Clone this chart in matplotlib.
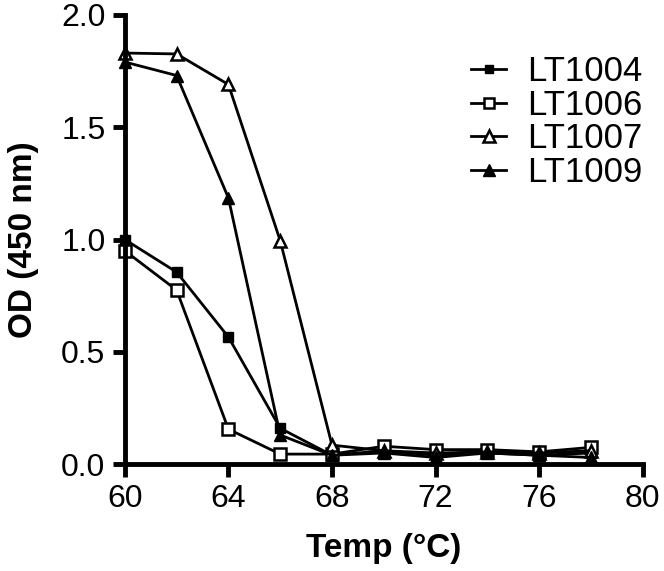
import matplotlib.pyplot as plt
from matplotlib.ticker import FormatStrFormatter

plt.rcParams['font.family'] = ['Liberation Sans', 'DejaVu Sans']

temp = [60, 62, 64, 66, 68, 70, 72, 74, 76, 78]
lt1004 = [1.00, 0.855, 0.566, 0.16, 0.04, 0.06, 0.04, 0.05, 0.04, 0.05]
lt1006 = [0.95, 0.775, 0.156, 0.045, 0.045, 0.08, 0.065, 0.065, 0.055, 0.075]
lt1007 = [1.83, 1.826, 1.69, 0.995, 0.085, 0.06, 0.05, 0.055, 0.05, 0.06]
lt1009 = [1.79, 1.73, 1.185, 0.13, 0.04, 0.05, 0.03, 0.05, 0.04, 0.03]

fig = plt.figure(figsize=(6.64, 5.71), dpi=100)
ax = fig.add_axes([0.188, 0.187, 0.780, 0.787])

lw = 2.0
ax.plot(temp, lt1004, color="black", lw=lw, marker="s", ms=7, mfc="black", mec="black", label="LT1004", clip_on=False)
ax.plot(temp, lt1006, color="black", lw=lw, marker="s", ms=8, mfc="white", mec="black", mew=1.8, label="LT1006", clip_on=False)
ax.plot(temp, lt1007, color="black", lw=lw, marker="^", ms=9, mfc="white", mec="black", mew=1.8, label="LT1007", clip_on=False)
ax.plot(temp, lt1009, color="black", lw=lw, marker="^", ms=9, mfc="black", mec="black", label="LT1009", clip_on=False)

ax.set_xlim(60, 80)
ax.set_ylim(0, 2.0)
ax.set_xticks([60, 64, 68, 72, 76, 80])
ax.set_yticks([0.0, 0.5, 1.0, 1.5, 2.0])
ax.yaxis.set_major_formatter(FormatStrFormatter("%.1f"))

for s in ["top", "right"]:
    ax.spines[s].set_visible(False)
for s in ["left", "bottom"]:
    ax.spines[s].set_linewidth(3.5)
ax.tick_params(width=3.5, length=9, labelsize=23, pad=5)

ax.set_xlabel("Temp (°C)", fontsize=24, fontweight="bold", labelpad=14)
ax.set_ylabel("OD (450 nm)", fontsize=24, fontweight="bold", labelpad=16)

ax.legend(loc="upper right", bbox_to_anchor=(642 / 664, 1 - 55 / 571), bbox_transform=fig.transFigure,
          frameon=False, fontsize=25, borderpad=0, borderaxespad=0,
          handlelength=1.0, handletextpad=0.6, labelspacing=0.02, markerscale=0.9)

fig.savefig("out.png", dpi=100)
